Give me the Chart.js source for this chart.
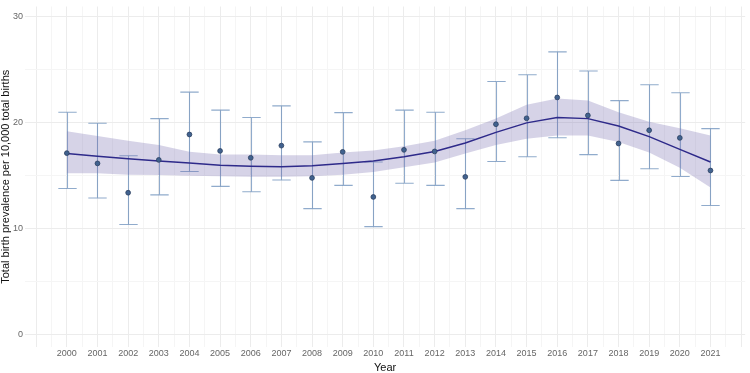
<!DOCTYPE html>
<html>
<head>
<meta charset="utf-8">
<script src="https://cdn.jsdelivr.net/npm/chart.js@4"></script>
<style>
  html, body { margin: 0; padding: 0; background: #fff; }
  #wrap { width: 750px; height: 373px; }
</style>
</head>
<body>
<div id="wrap"><canvas id="chart" width="750" height="373"></canvas></div>
<script>
// data
const years = [2000, 2001, 2002, 2003, 2004, 2005, 2006, 2007, 2008, 2009, 2010,
               2011, 2012, 2013, 2014, 2015, 2016, 2017, 2018, 2019, 2020, 2021];
const prevalence = [17.14, 16.17, 13.4, 16.5, 18.9, 17.35, 16.7, 17.85, 14.8, 17.26, 13.0,
                    17.45, 17.3, 14.9, 19.87, 20.43, 22.4, 20.7, 18.05, 19.3, 18.58, 15.5];
const ciLower = [13.8, 12.9, 10.4, 13.2, 15.4, 14.0, 13.5, 14.6, 11.9, 14.1, 10.2,
                 14.3, 14.1, 11.9, 16.35, 16.8, 18.6, 17.0, 14.57, 15.66, 14.94, 12.2];
const ciUpper = [21.0, 19.96, 16.9, 20.4, 22.9, 21.2, 20.5, 21.6, 18.2, 20.97, 16.3,
                 21.2, 21.0, 18.5, 23.9, 24.55, 26.7, 24.9, 22.1, 23.6, 22.85, 19.46];

// smoothed trend + its band
const smoothFit = [17.1, 16.85, 16.6, 16.4, 16.2, 16.0, 15.9, 15.85, 15.95, 16.15, 16.4,
                   16.8, 17.3, 18.1, 19.1, 20.0, 20.5, 20.4, 19.7, 18.7, 17.5, 16.3];
const smoothLow = [15.25, 15.25, 15.1, 15.07, 15.0, 14.95, 14.9, 14.9, 14.95, 15.1, 15.35,
                   15.8, 16.25, 17.1, 17.9, 18.5, 18.8, 18.8, 18.2, 17.2, 15.75, 13.9];
const smoothHigh = [19.2, 18.77, 18.3, 17.9, 17.26, 17.0, 17.0, 16.95, 16.95, 17.2, 17.4,
                    17.8, 18.3, 19.3, 20.4, 21.7, 22.3, 22.1, 21.0, 20.1, 19.5, 18.8];

const yTicks = [0, 10, 20, 30];

const xy = arr => years.map((yr, i) => ({ x: yr, y: arr[i] }));

// grid lines every half year / every 5 units
const xGrid = [];
for (let v = 1999; v <= 2022; v += 0.5) xGrid.push(v);
const yGrid = [0, 5, 10, 15, 20, 25, 30];

const FONT = 'Liberation Sans, Arial, sans-serif';

const errorBarPlugin = {
    id: 'errorBars',
    beforeDatasetsDraw(chart) {
        const { ctx, scales: { x, y } } = chart;
        const half = Math.abs(x.getPixelForValue(2000.3) - x.getPixelForValue(2000));
        ctx.save();
        ctx.strokeStyle = 'rgba(70,115,170,0.6)';
        ctx.lineWidth = 1.1;
        years.forEach((yr, i) => {
            const px = Math.round(x.getPixelForValue(yr)) + 0.5;
            const lo = y.getPixelForValue(ciLower[i]);
            const hi = y.getPixelForValue(ciUpper[i]);
            ctx.beginPath();
            ctx.moveTo(px, lo); ctx.lineTo(px, hi);
            ctx.moveTo(px - half, lo); ctx.lineTo(px + half, lo);
            ctx.moveTo(px - half, hi); ctx.lineTo(px + half, hi);
            ctx.stroke();
        });
        ctx.restore();
    }
};

new Chart(document.getElementById('chart'), {
    type: 'scatter',
    data: {
        datasets: [
            { type: 'line', data: xy(smoothHigh), fill: '+1', backgroundColor: 'rgba(120,110,175,0.3)',
              borderWidth: 0, pointRadius: 0, tension: 0, order: 4 },
            { type: 'line', data: xy(smoothLow), fill: false, borderWidth: 0, pointRadius: 0, tension: 0, order: 4 },
            { type: 'line', data: xy(smoothFit), borderColor: '#2e2a8a', borderWidth: 1.5,
              pointRadius: 0, tension: 0, fill: false, order: 2 },
            { data: xy(prevalence), backgroundColor: '#41628f', borderColor: '#2b3f60',
              borderWidth: 0.8, pointRadius: 2.4, order: 1 }
        ]
    },
    options: {
        responsive: false, animation: false,
        layout: { padding: 0 },
        plugins: { legend: { display: false }, tooltip: { enabled: false } },
        scales: {
            x: {
                type: 'linear', min: 1998.635, max: 2022.133,
                afterBuildTicks: s => { s.ticks = xGrid.map(v => ({ value: v })); },
                border: { display: false },
                grid: { color: c => Number.isInteger(c.tick.value) ? '#ececec' : '#f5f5f5', lineWidth: 1, drawTicks: false },
                ticks: {
                    autoSkip: false, maxRotation: 0, padding: 2.5,
                    color: '#666', font: { family: FONT, size: 9, lineHeight: 1 },
                    callback: v => (Number.isInteger(v) && years.includes(v)) ? String(v) : ''
                },
                title: { display: true, text: 'Year', color: '#111', padding: { top: 1, bottom: 0 },
                         font: { family: FONT, size: 11, lineHeight: 1 } }
            },
            y: {
                min: -1.17, max: 30.99,
                afterBuildTicks: s => { s.ticks = yGrid.map(v => ({ value: v })); },
                border: { display: false },
                grid: { color: c => yTicks.includes(c.tick.value) ? '#ececec' : '#f5f5f5', lineWidth: 1, drawTicks: false },
                ticks: {
                    padding: 2, color: '#666', font: { family: FONT, size: 9, lineHeight: 1 },
                    callback: v => yTicks.includes(v) ? String(v) : ''
                },
                title: { display: true, text: 'Total birth prevalence per 10,000 total births', color: '#111',
                         padding: { top: 0, bottom: 0 }, font: { family: FONT, size: 11, lineHeight: 1 } }
            }
        }
    },
    plugins: [errorBarPlugin]
});
</script>
</body>
</html>
